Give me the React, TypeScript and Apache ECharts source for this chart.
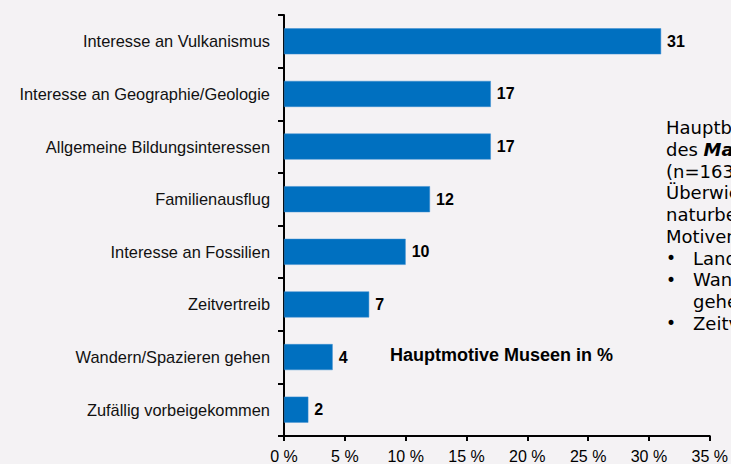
import React, { useEffect, useRef } from "react";
import * as echarts from "echarts";

const categories = [
  "Interesse an Vulkanismus",
  "Interesse an Geographie/Geologie",
  "Allgemeine Bildungsinteressen",
  "Familienausflug",
  "Interesse an Fossilien",
  "Zeitvertreib",
  "Wandern/Spazieren gehen",
  "Zufällig vorbeigekommen",
];
const values = [31, 17, 17, 12, 10, 7, 4, 2];
const chartTitle = "Hauptmotive Museen in %";
// visible part of the side note (cut off at the right edge in the reference)
const sideLines = ["Hauptb", "des {b|Ma}", "(n=163", "Überwie", "naturbe", "Motiven"];
const sideBullets = ["Land", "Wan\ngehe", "Zeitv"];

export default function App() {
  const ref = useRef<HTMLDivElement>(null);
  useEffect(() => {
    if (!ref.current) return;
    const chart = echarts.init(ref.current, null, { renderer: "svg" });
    const font = "Liberation Sans";
    const sideFont = "DejaVu Sans";
    const lh = 21.7;
    const sideTop = 117;
    const bulletEls: any[] = [];
    let row = sideLines.length;
    sideBullets.forEach((t) => {
      const y = sideTop + row * lh;
      bulletEls.push({
        type: "text",
        left: 666,
        top: y,
        style: { text: "•", fontFamily: sideFont, fontSize: 17, lineHeight: lh, fill: "#000" },
      });
      bulletEls.push({
        type: "text",
        left: 693,
        top: y,
        style: { text: t, fontFamily: sideFont, fontSize: 18, lineHeight: lh, fill: "#000" },
      });
      row += t.split("\n").length;
    });
    chart.setOption({
      animation: false,
      backgroundColor: "#F4F2F4",
      textStyle: { fontFamily: font },
      grid: { left: 284, right: 20, top: 15, bottom: 28, containLabel: false },
      xAxis: {
        type: "value",
        min: 0,
        max: 35,
        interval: 5,
        splitLine: { show: false },
        axisLine: { show: true, lineStyle: { color: "#000", width: 2 } },
        axisTick: { show: true, length: 5, lineStyle: { color: "#000", width: 2 } },
        axisLabel: {
          formatter: (v: number) => v + " %",
          color: "#000",
          fontSize: 16,
          margin: 12,
          fontFamily: font,
        },
      },
      yAxis: {
        type: "category",
        inverse: true,
        data: categories,
        axisLine: { show: true, lineStyle: { color: "#000", width: 2 } },
        axisTick: { show: true, length: 6, lineStyle: { color: "#000", width: 2 } },
        axisLabel: { color: "#111", fontSize: 16.4, margin: 14, fontFamily: font },
      },
      series: [
        {
          type: "bar",
          data: values,
          barWidth: 26,
          itemStyle: { color: "#0070C0", borderColor: "#3A8CD0", borderWidth: 0.5 },
          label: {
            show: true,
            position: "right",
            distance: 6,
            color: "#000",
            fontWeight: "bold",
            fontSize: 16,
            fontFamily: font,
          },
        },
      ],
      graphic: [
        {
          type: "text",
          left: 390,
          top: 346,
          style: {
            text: chartTitle,
            font: "bold 18px 'Liberation Sans'",
            fill: "#000",
          },
        },
        {
          type: "text",
          left: 666,
          top: sideTop,
          style: {
            text: sideLines.join("\n"),
            fontFamily: sideFont,
            fontSize: 18,
            lineHeight: lh,
            fill: "#000",
            rich: {
              b: { fontWeight: "bold", fontStyle: "italic", fontSize: 18, fontFamily: sideFont, lineHeight: lh },
            },
          },
        },
        ...bulletEls,
      ],
    });
    return () => chart.dispose();
  }, []);
  return (
    <div
      ref={ref}
      style={{ position: "fixed", left: 0, top: 0, width: 731, height: 464 }}
    />
  );
}
